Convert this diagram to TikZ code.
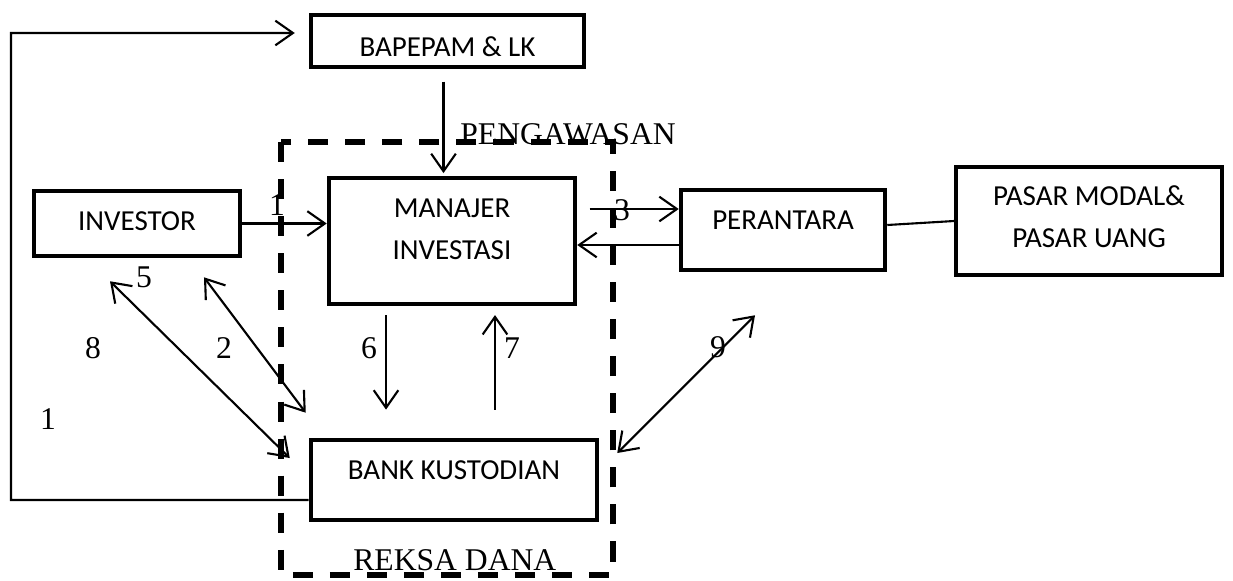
\documentclass[tikz,border=0pt]{standalone}
\usepackage{fontspec}
\setmainfont{Liberation Serif}
\newfontfamily\boxfont{Carlito}
\usetikzlibrary{arrows.meta,calc}
\tikzstyle{block} = [rectangle, draw, line width=2.6pt, align=center,
    font=\boxfont\fontsize{16.5}{23.5}\selectfont, inner sep=0pt]
\tikzstyle{line} = [draw, line width=1.2pt, -{Straight Barb[length=10pt,width=14pt]}]
\tikzstyle{dline} = [draw, line width=1.2pt,
    {Straight Barb[length=10pt,width=14pt]}-{Straight Barb[length=10pt,width=14pt]}]
\tikzstyle{num} = [font=\fontsize{18}{18}\selectfont, inner sep=0pt]
\tikzstyle{caption} = [font=\fontsize{18}{18}\selectfont, inner sep=0pt, anchor=base west]
\tikzstyle{reksa} = [draw, line width=2.9pt, dash pattern=on 11.4pt off 9.7pt]

\begin{document}
\begin{tikzpicture}[x=0.02cm,y=-0.02cm]
    \useasboundingbox (0,0) rectangle (1233,581);

    % reksa dana frame
    \draw [reksa] (281,142) rectangle (613,575);
    \node [caption] (pengawasan) at (460,144) {PENGAWASAN};
    \node [caption] (reksadana) at (353,570) {REKSA DANA};

    \node [block,minimum width=5.46cm,minimum height=1.04cm,text height=18pt,text depth=0pt] (bap) at (447.5,41) {BAPEPAM \& LK};
    \node [block,minimum width=4.92cm,minimum height=2.52cm,text height=33pt,text depth=12.5pt] (mi) at (452,241) {MANAJER\\INVESTASI};
    \node [block,minimum width=4.12cm,minimum height=1.3cm,text height=10.6pt,text depth=2.1pt] (inv) at (137,223.5) {INVESTOR};
    \node [block,minimum width=4.08cm,minimum height=1.6cm,text height=10.6pt,text depth=11.7pt] (per) at (783,230) {PERANTARA};
    \node [block,line width=2pt,minimum width=5.32cm,minimum height=2.16cm,text height=33pt,text depth=3.4pt] (pasar) at (1089,221) {PASAR MODAL\&\\PASAR UANG};
    \node [block,minimum width=5.72cm,minimum height=1.6cm,text height=10.6pt,text depth=11.7pt] (bank) at (454,480) {BANK KUSTODIAN};

    \coordinate (lp) at (11,33);

    % Draw edges
    \path [line] ([yshift=-0.4cm]bank.west) -| (lp) -- ([xshift=-0.28cm,yshift=0.16cm]bap.west);
    \path [line, shorten <=7pt, shorten >=1.5pt] ([xshift=-0.08cm]bap.south) -- ([xshift=-0.08cm]bap.south |- mi.north);
    \path [line] (inv.east) -- (inv.east -| mi.west);
    \path [line, shorten <=7pt] ([yshift=0.42cm]per.west -| mi.east) -- ([yshift=0.42cm]per.west);
    \path [line] ([yshift=-0.3cm]per.west) -- ([yshift=-0.3cm]per.west -| mi.east);
    \draw [line width=1.2pt] ([yshift=0.1cm]per.east) -- (pasar.west);
    \path [line, shorten <=5pt, shorten >=16pt] ([xshift=-1.32cm]mi.south) -- ([xshift=-1.32cm]mi.south |- bank.north);
    \path [line, shorten <=16pt, shorten >=5pt] ([xshift=0.86cm]mi.south |- bank.north) -- ([xshift=0.86cm]mi.south);
    \path [dline] ([shift={(1.34cm,-0.38cm)}]inv.south) -- ([shift={(-0.06cm,0.5cm)}]bank.north west);
    \path [dline] ([shift={(-0.54cm,-0.46cm)}]inv.south) -- ([shift={(-0.38cm,0.44cm)}]bank.west);
    \path [dline] ([shift={(0.36cm,0.54cm)}]bank.east) -- ([shift={(-0.56cm,-0.86cm)}]per.south);

    % numbers
    \node [num] (n1a) at (277,205) {1};
    \node [num] (n3) at (622,210) {3};
    \node [num] (n5) at (144,277) {5};
    \node [num] (n8) at (93,348) {8};
    \node [num] (n2) at (224,348) {2};
    \node [num] (n1b) at (48,419) {1};
    \node [num] (n6) at (369,348) {6};
    \node [num] (n7) at (512,348) {7};
    \node [num] (n9) at (718,347) {9};

\end{tikzpicture}
\end{document}
